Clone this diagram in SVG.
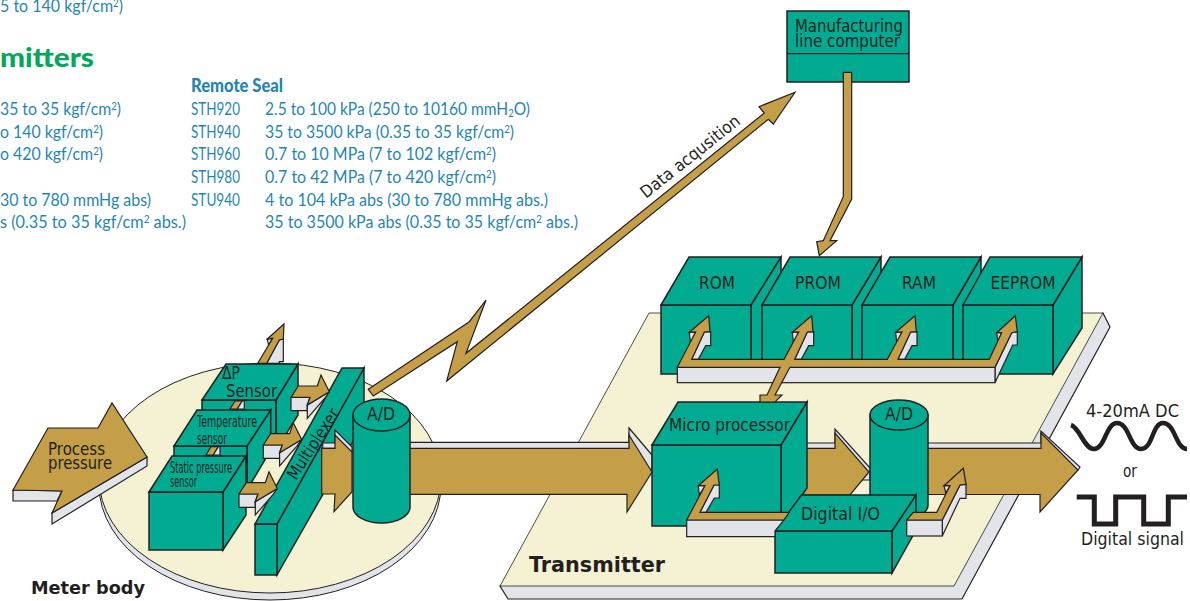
<svg xmlns="http://www.w3.org/2000/svg" xmlns:xlink="http://www.w3.org/1999/xlink" width="1190" height="601" viewBox="0 0 1190 601">
<style>
.t{fill:#00ab92;stroke:#231f20;stroke-width:1.5;stroke-linejoin:miter}
.g{fill:#c49f47;stroke:#231f20;stroke-width:1.2;stroke-linejoin:miter}
.s{fill:#e2e4e9;stroke:#231f20;stroke-width:1.2;stroke-linejoin:miter}
.l{font-family:"DejaVu Sans",sans-serif;font-size:17px;fill:#231f20}
.b{font-family:"Lato","Liberation Sans",sans-serif;font-size:18px;font-weight:400;fill:#1f86b4}
.h{font-family:"DejaVu Sans",sans-serif;font-weight:700;fill:#231f20}
</style>
<defs>
<g id="sensorArrow">
<polygon class="s" points="291,397.3 310,397.3 307.3,405 307.3,410.7 291,410.7"/>
<polygon class="s" points="307.3,405 329.3,391.7 325,398 307.3,418.3"/>
<polygon class="g" points="291,397.3 298.3,386 317.3,386 321,375 329.3,391.7 307.3,405 310,397.3"/>
</g>
<g id="busTap">
<polygon class="s" points="689.3,332.3 695.7,332 690.5,343"/>
<polygon class="s" points="691.7,359.3 698.3,359.3 705.7,345.7 710.7,345.7 710.7,331.7 704.3,332"/>
</g>
</defs>

<g id="spec-text">
<text x="0" y="12" class="b" textLength="123" lengthAdjust="spacingAndGlyphs">5 to 140 kgf/cm<tspan font-size="11" dy="-5">2</tspan><tspan dy="5">)</tspan></text>
<text x="0" y="67" font-family="'Lato','Liberation Sans',sans-serif" font-weight="900" font-size="27" fill="#00a85a" textLength="94" lengthAdjust="spacingAndGlyphs">mitters</text>
<text x="0" y="115" class="b" textLength="121" lengthAdjust="spacingAndGlyphs">35 to 35 kgf/cm<tspan font-size="11" dy="-5">2</tspan><tspan dy="5">)</tspan></text>
<text x="0" y="137.7" class="b" textLength="103" lengthAdjust="spacingAndGlyphs">o 140 kgf/cm<tspan font-size="11" dy="-5">2</tspan><tspan dy="5">)</tspan></text>
<text x="0" y="160.3" class="b" textLength="103" lengthAdjust="spacingAndGlyphs">o 420 kgf/cm<tspan font-size="11" dy="-5">2</tspan><tspan dy="5">)</tspan></text>
<text x="0" y="205.7" class="b" textLength="151" lengthAdjust="spacingAndGlyphs">30 to 780 mmHg abs)</text>
<text x="0" y="228.3" class="b" textLength="186" lengthAdjust="spacingAndGlyphs">s (0.35 to 35 kgf/cm<tspan font-size="11" dy="-5">2</tspan><tspan dy="5"> abs.)</tspan></text>
<text x="191" y="92" font-family="'Lato','Liberation Sans',sans-serif" font-weight="900" font-size="18" fill="#1f86b4" textLength="92" lengthAdjust="spacingAndGlyphs">Remote Seal</text>
<text x="191" y="115" class="b" textLength="49" lengthAdjust="spacingAndGlyphs">STH920</text>
<text x="191" y="137.7" class="b" textLength="49" lengthAdjust="spacingAndGlyphs">STH940</text>
<text x="191" y="160.3" class="b" textLength="49" lengthAdjust="spacingAndGlyphs">STH960</text>
<text x="191" y="183" class="b" textLength="49" lengthAdjust="spacingAndGlyphs">STH980</text>
<text x="191" y="205.7" class="b" textLength="49" lengthAdjust="spacingAndGlyphs">STU940</text>
<text x="265" y="115" class="b" textLength="265" lengthAdjust="spacingAndGlyphs">2.5 to 100 kPa (250 to 10160 mmH<tspan font-size="11" dy="2">2</tspan><tspan dy="-2">O)</tspan></text>
<text x="265" y="137.7" class="b" textLength="249" lengthAdjust="spacingAndGlyphs">35 to 3500 kPa (0.35 to 35 kgf/cm<tspan font-size="11" dy="-5">2</tspan><tspan dy="5">)</tspan></text>
<text x="265" y="160.3" class="b" textLength="231" lengthAdjust="spacingAndGlyphs">0.7 to 10 MPa (7 to 102 kgf/cm<tspan font-size="11" dy="-5">2</tspan><tspan dy="5">)</tspan></text>
<text x="265" y="183" class="b" textLength="231" lengthAdjust="spacingAndGlyphs">0.7 to 42 MPa (7 to 420 kgf/cm<tspan font-size="11" dy="-5">2</tspan><tspan dy="5">)</tspan></text>
<text x="265" y="205.7" class="b" textLength="283" lengthAdjust="spacingAndGlyphs">4 to 104 kPa abs (30 to 780 mmHg abs.)</text>
<text x="265" y="228.3" class="b" textLength="313" lengthAdjust="spacingAndGlyphs">35 to 3500 kPa abs (0.35 to 35 kgf/cm<tspan font-size="11" dy="-5">2</tspan><tspan dy="5"> abs.)</tspan></text>
</g>

<g id="meter-body">
<ellipse cx="270" cy="485" rx="171" ry="115" fill="#e2e4e9" stroke="#231f20" stroke-width="1"/>
<ellipse cx="270" cy="478" rx="171" ry="115" fill="#f4f2d3" stroke="#231f20" stroke-width="1"/>
<text x="31" y="594" class="h" font-size="18" textLength="114" lengthAdjust="spacingAndGlyphs">Meter body</text>
</g>

<g id="transmitter-board">
<polygon class="s" points="1103,313 1110,327 962,599 508,599 500,586"/>
<polygon points="649,313 1103,313 954,586 500,586" fill="#f4f2d3" stroke="#231f20" stroke-width="0.8"/>
<text x="529" y="572" class="h" font-size="22" textLength="136" lengthAdjust="spacingAndGlyphs">Transmitter</text>
</g>

<g id="connectors-back">
<polygon class="g" points="368.3,389.3 469.3,321.7 486,300 466,353.3 764.3,113 759,106.7 795,92.3 773.3,124 768.3,119.3 446.7,381 457.3,341.7 373.3,396"/>
<text x="646" y="199" class="l" transform="rotate(-38.5 646 199)" textLength="122" lengthAdjust="spacingAndGlyphs">Data acqusition</text>
<polygon class="s" points="266.7,363.3 279.3,363.3 279.3,361.7 283.3,361.7 283.3,339 279.3,340"/>
<polygon class="s" points="267.3,339 272.7,338.3 268.5,345"/>
<polygon class="g" points="257.7,363.3 272.7,338.3 267.3,339 284,324 283.3,339 279.3,340 266.7,363.3"/>
<polygon class="s" points="407,442.3 629,442.3 629,428 652,455 652,470 407,470"/>
<polygon class="g" points="407,448.3 629,448.3 629,435 652,472 627,512 627,494.3 407,494.3"/>
<polygon class="s" points="800,443 835,443 835,429 870,468 870,480 800,480"/>
<polygon class="g" points="800,448.3 835,448.3 835,433 869,472 850,495 800,495"/>
<polygon class="s" points="925,443 1041,443 1041,431 1080,467 1078,470 925,470"/>
<polygon class="g" points="925,448.3 1041,448.3 1041,433 1078,470 1040,512 1040,494.5 925,494.5"/>
</g>

<g id="dp-sensor">
<polygon class="t" points="276,400 298,364 298,415 276,450"/>
<rect class="t" x="202" y="400" width="74" height="50"/>
<polygon class="t" points="202,400 226,364 298,364 276,400"/>
<text x="222" y="379" class="l" textLength="18" lengthAdjust="spacingAndGlyphs">ΔP</text>
<text x="226" y="397" class="l" textLength="51" lengthAdjust="spacingAndGlyphs">Sensor</text>
</g>
<g id="temperature-sensor">
<polygon class="t" points="247,446 270.7,410 270.7,450 247,490"/>
<rect class="t" x="174" y="446" width="73" height="44"/>
<polygon class="t" points="174,446 197,410 270.7,410 247,446"/>
<text x="197" y="427" class="l" style="font-size:16px" textLength="60" lengthAdjust="spacingAndGlyphs">Temperature</text>
<text x="197" y="444" class="l" style="font-size:16px" textLength="30" lengthAdjust="spacingAndGlyphs">sensor</text>
</g>
<g id="static-pressure-sensor">
<polygon class="t" points="223,492 246,456 246,515 223,550"/>
<rect class="t" x="149" y="492" width="74" height="58"/>
<polygon class="t" points="149,492 172,456 246,456 223,492"/>
<text x="170" y="473" class="l" style="font-size:15px" textLength="62" lengthAdjust="spacingAndGlyphs">Static pressure</text>
<text x="170" y="487" class="l" style="font-size:15px" textLength="27" lengthAdjust="spacingAndGlyphs">sensor</text>
</g>
<g id="multiplexer">
<polygon class="t" points="277,524 364,368 364,422 277,575"/>
<rect class="t" x="255" y="524" width="22" height="51"/>
<polygon class="t" points="255,524 342,368 364,368 277,524"/>
<text x="296" y="481" class="l" transform="rotate(-57 296 481)" textLength="81" lengthAdjust="spacingAndGlyphs">Multiplexer</text>
</g>
<g id="ad-left">
<path class="t" d="M353,415 V507 A28.5,16 0 0 0 410,507 V415 Z"/>
<ellipse class="t" cx="381.5" cy="415" rx="28.5" ry="16"/>
<text x="381" y="420" class="l" text-anchor="middle" textLength="28" lengthAdjust="spacingAndGlyphs">A/D</text>
</g>
<g id="process-pressure">
<polygon class="s" points="13,490 13,501 57,501 62,491"/>
<polygon class="s" points="52,513 52,524 147,466 147,457"/>
<polygon class="g" points="13,490 48,428 98,428 112,403 147,457 52,513 62,491"/>
<text x="48" y="455" class="l" textLength="57" lengthAdjust="spacingAndGlyphs">Process</text>
<text x="48" y="469" class="l" textLength="64" lengthAdjust="spacingAndGlyphs">pressure</text>
</g>
<g id="computer">
<rect class="t" x="787" y="11" width="122" height="71"/>
<line x1="787" y1="53.7" x2="909" y2="53.7" stroke="#231f20" stroke-width="1.2"/>
<text x="795" y="32" class="l" textLength="108" lengthAdjust="spacingAndGlyphs">Manufacturing</text>
<text x="795" y="46.7" class="l" textLength="105" lengthAdjust="spacingAndGlyphs">line computer</text>
</g>
<g id="rom">
<polygon class="t" points="751,305 781,257 781,360 751,374"/>
<rect class="t" x="661" y="305" width="90" height="69"/>
<polygon class="t" points="661,305 689,257 781,257 751,305"/>
<text x="717" y="289" class="l" text-anchor="middle" textLength="36" lengthAdjust="spacingAndGlyphs">ROM</text>
</g>
<g id="prom">
<polygon class="t" points="852,305 881,257 881,360 852,374"/>
<rect class="t" x="762" y="305" width="90" height="69"/>
<polygon class="t" points="762,305 790,257 881,257 852,305"/>
<text x="818" y="289" class="l" text-anchor="middle" textLength="46" lengthAdjust="spacingAndGlyphs">PROM</text>
</g>
<g id="ram">
<polygon class="t" points="953,305 981,257 981,360 953,374"/>
<rect class="t" x="862" y="305" width="91" height="69"/>
<polygon class="t" points="862,305 890,257 981,257 953,305"/>
<text x="919" y="289" class="l" text-anchor="middle" textLength="34" lengthAdjust="spacingAndGlyphs">RAM</text>
</g>
<g id="eeprom">
<polygon class="t" points="1053,305 1082,257 1082,328 1053,374"/>
<rect class="t" x="963" y="305" width="90" height="69"/>
<polygon class="t" points="963,305 990,257 1082,257 1053,305"/>
<text x="1023" y="289" class="l" text-anchor="middle" textLength="65" lengthAdjust="spacingAndGlyphs">EEPROM</text>
</g>
<g id="microprocessor">
<polygon class="t" points="781,445 807,402 807,488 781,526"/>
<rect class="t" x="652" y="445" width="129" height="81"/>
<polygon class="t" points="652,445 678,402 807,402 781,445"/>
<text x="669" y="430.7" class="l" textLength="121" lengthAdjust="spacingAndGlyphs">Micro processor</text>
</g>
<g id="ad-right">
<path class="t" d="M870,415 V505 A29,15 0 0 0 928,505 V415 Z"/>
<ellipse class="t" cx="899" cy="415" rx="29" ry="15"/>
<text x="899" y="420" class="l" text-anchor="middle" textLength="28" lengthAdjust="spacingAndGlyphs">A/D</text>
</g>
<g id="digital-io">
<polygon class="t" points="892,531 916,495 916,530 892,573"/>
<rect class="t" x="775" y="531" width="117" height="42"/>
<polygon class="t" points="775,531 801.4,495 916,495 892,531"/>
<text x="801" y="520" class="l" textLength="79" lengthAdjust="spacingAndGlyphs">Digital I/O</text>
</g>

<g id="connectors-front">
<polygon class="g" points="843.3,72.3 851.7,72.3 851.7,199 830,240.7 836.7,240.7 819.3,255.7 816.7,241.7 823.3,240.7 843.3,196.7"/>
<polygon class="g" points="230,409 235,401 242.3,401 237.3,409"/>
<polygon class="s" points="242.3,401 244.3,401 244.3,409 237.3,409"/>
<polygon class="g" points="206,455 211,446.7 218.3,446.7 213.3,455"/>
<polygon class="s" points="218.3,446.7 220,446.7 220,455 213.3,455"/>
<use xlink:href="#sensorArrow" href="#sensorArrow"/>
<use xlink:href="#sensorArrow" href="#sensorArrow" transform="translate(-27.7 47.7)"/>
<use xlink:href="#sensorArrow" href="#sensorArrow" transform="translate(-52 96.7)"/>
<polygon class="s" points="322.7,443 335,443 335,430 352,447 352,452 335,448.3 322.7,448.3"/>
<polygon class="g" points="321.7,448.3 335,448.3 335,435 352,452 352,491.7 334,511.7 335,494 321.7,494"/>

<use xlink:href="#busTap" href="#busTap"/>
<use xlink:href="#busTap" href="#busTap" transform="translate(103 0)"/>
<use xlink:href="#busTap" href="#busTap" transform="translate(206.3 0)"/>
<polygon class="s" points="996.7,332.7 1001.7,332.7 998,341"/>
<polygon class="s" points="995,367.3 1011.7,332.7 1017.3,331.7 1017.3,345 1012.7,345 995,382.7"/>
<rect class="s" x="677.3" y="367.3" width="317.7" height="15.4"/>
<polygon class="g" points="677.3,367.3 695.7,332 689.3,332.3 708.7,315.7 710,331.7 704.3,332 691.7,359.3 784,359.3 798.7,332 792.3,332.3 811.7,315.7 813,331.7 807.3,332 794.7,359.3 887.3,359.3 902,332 895.6,332.3 915,315.7 916.3,331.7 910.6,332 898,359.3 989.3,359.3 1001.7,332.7 996.7,332.7 1015.3,315.7 1017.3,331.7 1011.7,332.7 995,367.3 790,367.3 775,395 782,395 775,402 760,402 760,395 767,395 780,367.3"/>

<polygon class="s" points="698.3,485.7 705,485.7 699.3,495"/>
<polygon class="s" points="700,512.3 706,512.3 714.3,498 719.3,498 719.3,485 714,485"/>
<polygon class="s" points="686.7,520 783.8,520 775,531 775,536.7 686.7,536.7"/>
<polygon class="g" points="686.7,520 705,485.7 698.3,485.7 717.3,469 719.3,485 714,485 700,512.3 789.3,512.3 783.8,520"/>

<polygon class="s" points="944,485.7 950,485.7 945.7,493"/>
<polygon class="s" points="942.3,520 960,485 966,484.3 966,498.3 960,498.3 942.3,536"/>
<rect class="s" x="906.7" y="520" width="35.6" height="16"/>
<polygon class="g" points="906.7,520 913.3,512.3 936.7,512.3 950,485.7 944,485.7 963.3,468.3 966,484.3 960,485 942.3,520"/>
</g>

<g id="signal-4-20ma">
<text x="1086" y="417" class="l" style="font-size:18px" textLength="93" lengthAdjust="spacingAndGlyphs">4-20mA DC</text>
<path d="M1071,425 C1080,428 1084,449 1094,449 C1105,449 1106,423 1117,423 C1129,423 1130,449 1141,449 C1153,449 1152,423 1163,423 C1175,423 1176,449 1187,449" fill="none" stroke="#231f20" stroke-width="4.5"/>
</g>
<text id="or-label" x="1123" y="477" class="l" style="font-size:18px" textLength="14" lengthAdjust="spacingAndGlyphs">or</text>
<g id="signal-digital">
<path d="M1076.7,497 H1094.3 V524 H1115.7 V497 H1143.7 V524 H1168.3 V497 H1187" fill="none" stroke="#231f20" stroke-width="5"/>
<text x="1081" y="545" class="l" style="font-size:18px" textLength="103" lengthAdjust="spacingAndGlyphs">Digital signal</text>
</g>
</svg>
